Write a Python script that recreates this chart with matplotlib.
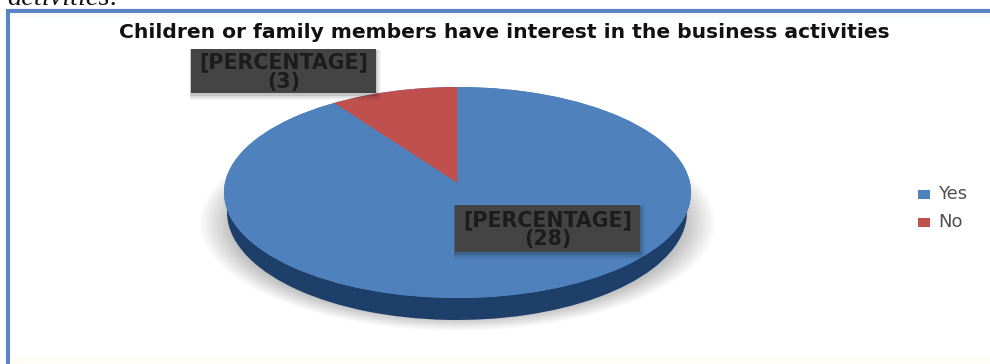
import numpy as np
import matplotlib
matplotlib.use("Agg")
import matplotlib.pyplot as plt
from matplotlib.patches import Rectangle, Ellipse

W, H = 990, 364

categories = ["Yes", "No"]
counts = [28, 3]
slice_colors = ["#4F81BD", "#C0504D"]
rim_colors = ["#1F3F6B", "#7A2F2D"]
slice_labels = ["[PERCENTAGE]\n(28)", "[PERCENTAGE]\n(3)"]
title = "Children or family members have interest in the business activities"
caption_fragment = "activities:"


def px_axes(fig, left, top, right, bottom, **kw):
    """Axes placed by pixel edges, measured from the top-left corner."""
    return fig.add_axes([left / W, 1 - bottom / H, (right - left) / W, (bottom - top) / H], **kw)


def soft_ellipse(cx, cy, rx, ry, sigma):
    """Alpha map of an ellipse with a smooth falloff of about sigma pixels."""
    yy, xx = np.mgrid[0:H, 0:W]
    dist = (np.hypot((xx - cx) / rx, (yy - cy) / ry) - 1) * min(rx, ry)
    return np.clip(0.5 - dist / (2.2 * sigma), 0, 1)


def unit_axes(ax):
    ax.set_aspect("auto")
    ax.set_xlim(-1, 1)
    ax.set_ylim(-1, 1)
    ax.patch.set_alpha(0)


fig = plt.figure(figsize=(W / 100, H / 100), dpi=100, facecolor="white")

# full-figure pixel canvas for the frame, drop shadow and label boxes
bg = fig.add_axes([0, 0, 1, 1], zorder=0)
bg.axis("off")

# the frame runs off the right and bottom edges of the figure
bg.add_patch(Rectangle((8, 10.5), 1000, 400, fc="white", ec="#5B84C4", lw=3.0))
bg.add_patch(Rectangle((10, 356), 980, 8, fc="#FFFDF5", ec="none"))
bg.add_patch(Rectangle((10, 12.5), 980, 6, fc="#F8FCFF", ec="none"))

alpha = soft_ellipse(457, 222, 243, 102, 6) * 0.6
shadow = np.zeros((H, W, 4))
shadow[..., :3] = 0.6
shadow[..., 3] = alpha
bg.imshow(shadow, extent=(0, W, H, 0), aspect="auto", zorder=1, interpolation="bilinear")
bg.set_xlim(0, W)
bg.set_ylim(H, 0)

# side wall: a dark, slightly narrower pie below the top face
rim_ax = px_axes(fig, 227, 104, 687, 320, zorder=2)
rim_ax.pie(counts, colors=rim_colors, startangle=90, counterclock=False)
unit_axes(rim_ax)

# top face: the apex sits above the ellipse centre, so the wedges are
# oversized and clipped by the outline of the disc
face_ax = px_axes(fig, 224, 87, 691, 298, zorder=2.5)
wedges, _ = face_ax.pie(counts, colors=slice_colors, startangle=90, counterclock=False,
                        center=(0, 0.09), radius=1.3)
unit_axes(face_ax)
outline = Ellipse((0, 0), 2, 2, transform=face_ax.transData, fc=slice_colors[0], ec="none", zorder=0)
face_ax.add_patch(outline)
for wedge in wedges:
    wedge.set_clip_on(True)
    wedge.set_clip_path(outline)

# label boxes with a soft shadow on the right and bottom edges
over = fig.add_axes([0, 0, 1, 1], zorder=3)
over.set_xlim(0, W)
over.set_ylim(H, 0)
over.axis("off")
boxes = [(455, 205, 185, 47), (191, 49, 185, 44)]
for (x, y, w, h), text in zip(boxes, slice_labels):
    for grow, a in ((6, 0.05), (4, 0.08), (2, 0.12)):
        over.add_patch(Rectangle((x - 1, y + 1), w + grow, h + grow, fc="black", ec="none", alpha=a))
    over.add_patch(Rectangle((x, y), w, h, fc="#444444", ec="none"))
    over.text(x + w / 2, y + h / 2 + 1, text, ha="center", va="center", fontsize=14.8,
              fontweight="bold", color="#1C1C1C", family="DejaVu Sans", linespacing=0.95)

over.text(504, 33, title, ha="center", va="center", fontsize=14.55, fontweight="bold",
          color="#111111", family="DejaVu Sans")
over.text(7, 5, caption_fragment, ha="left", va="baseline", fontsize=20.5, style="italic",
          color="#111111", family="Liberation Serif")

# legend entries
for label, color, y in zip(categories, slice_colors, (194, 222)):
    over.add_patch(Rectangle((918, y - 4.5), 12, 9, fc=color, ec="none"))
    over.text(938, y, label, ha="left", va="center", fontsize=13, color="#505050",
              family="DejaVu Sans")

fig.savefig("out.png", dpi=100, facecolor="white")
